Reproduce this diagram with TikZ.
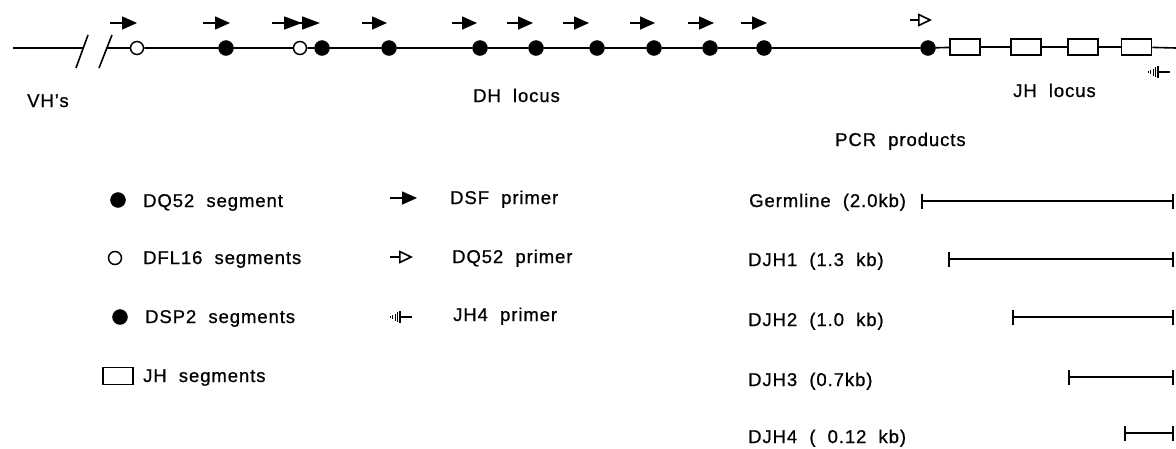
\documentclass[tikz,border=0pt]{standalone}
\usepackage{fontspec}
\setmainfont{Liberation Sans}[LetterSpace=5,WordSpace=2,FakeBold=0.8]
\usetikzlibrary{arrows.meta}
\tikzset{
  jhp/.pic={
    \draw[line width=1pt] (0,-1.2) -- (0,1.2);
    \draw[line width=1pt] (2.5,-2.2) -- (2.5,2.2);
    \draw[line width=1pt] (5,-3.5) -- (5,3.5);
    \draw[line width=1.2pt] (7.5,-5) -- (7.5,5);
    \draw[line width=1.2pt] (10,-6) -- (10,6);
    \draw[line width=1.6pt] (10,0) -- (22,0);
  }
}
\begin{document}
\begin{tikzpicture}[x=1pt,y=-1pt,
  lw/.style={line width=1.6pt},
  dot/.style={circle,fill=black,draw=black,inner sep=0pt,minimum size=15pt},
  odot/.style={circle,fill=white,draw=black,line width=1.5pt,inner sep=0pt,minimum size=13pt},
  jh/.style={rectangle,draw=black,fill=white,line width=1.5pt,inner sep=0pt,minimum width=30pt,minimum height=16pt},
  lbl/.style={anchor=base west,inner sep=0pt,font=\fontsize{18.5}{21}\selectfont},
  dsf/.style={line width=1.6pt,-{Triangle[length=15pt,width=13pt]}},
  dsfd/.style={line width=1.6pt,-{Triangle[length=18pt,width=13pt]Triangle[length=18pt,width=13pt]}},
  dq/.style={line width=1.6pt,-{Triangle[open,length=14pt,width=13pt]}},
  prod/.style={line width=1.6pt,{Bar[width=15pt]}-{Bar[width=15pt]}},
]
\useasboundingbox (0,0) rectangle (1176,448);

% ---- locus line ----
\coordinate (a0) at (13,48);
\coordinate (a1) at (83,48);
\coordinate (a2) at (107,48);
\coordinate (aend) at (1176,48);
\draw[lw] (76,68) -- (88,35);
\draw[lw] (99,68) -- (112,35);

\node[odot] (d1) at (137,48) {};
\node[dot]  (d2) at (226,48) {};
\node[odot] (d3) at (300,48) {};
\node[dot]  (d4) at (322,48) {};
\node[dot]  (d5) at (389,48) {};
\node[dot]  (d6) at (480,48) {};
\node[dot]  (d7) at (536,48) {};
\node[dot]  (d8) at (597,48) {};
\node[dot]  (d9) at (654,48) {};
\node[dot]  (d10) at (710,48) {};
\node[dot]  (d11) at (764,48) {};
\node[dot]  (dq) at (928,48) {};
\node[jh] (j1) at (965,47) {};
\node[jh] (j2) at (1026,47) {};
\node[jh] (j3) at (1083,47) {};
\node[jh] (j4) at (1136.5,47) {};

\draw[lw] (a0) -- (a1);
\draw[lw] (a2) -- (d1) -- (d2) -- (d3) -- (d4) -- (d5) -- (d6) -- (d7) -- (d8)
  -- (d9) -- (d10) -- (d11) -- (dq) -- (j1) -- (j2) -- (j3) -- (j4) -- (aend);

% ---- primers ----
\foreach \s/\e [count=\i] in {110/137,203/230,362/387,452/477,507/533,563/589,630/655,688/714,741/767}{
  \coordinate (ps\i) at (\s,23);
  \coordinate (pe\i) at (\e,23);
  \draw[dsf] (ps\i) -- (pe\i);
}
\coordinate (pds) at (272,23);
\coordinate (pde) at (320,23);
\draw[dsfd] (pds) -- (pde);
\coordinate (qs) at (910,20);
\coordinate (qe) at (932,20);
\draw[dq] (qs) -- (qe);
\pic at (1148,72) {jhp};

% ---- locus labels ----
\node[lbl] (vh) at (27,107) {VH's};
\node[lbl] (dh) at (473,102) {DH locus};
\node[lbl] (jhl) at (1013,97) {JH locus};
\node[lbl] (pcr) at (835,146) {PCR products};

% ---- legend ----
\node[dot] (l1) at (118,200) {};
\node[lbl] (t1) at (143,207) {DQ52 segment};
\node[odot] (l2) at (115,258) {};
\node[lbl] (t2) at (143,264) {DFL16 segments};
\node[dot] (l3) at (120,317) {};
\node[lbl] (t3) at (145,323) {DSP2 segments};
\node[jh,minimum height=17pt] (l4) at (118,376) {};
\node[lbl] (t4) at (143,382) {JH segments};

\coordinate (ls1) at (390,198);
\coordinate (le1) at (417,198);
\draw[dsf] (ls1) -- (le1);
\node[lbl] (r1) at (450,204) {DSF primer};
\coordinate (ls2) at (390,257);
\coordinate (le2) at (413,257);
\draw[dq] (ls2) -- (le2);
\node[lbl] (r2) at (452,263) {DQ52 primer};
\pic at (390,317) {jhp};
\node[lbl] (r3) at (453,321) {JH4 primer};

% ---- PCR products ----
\node[lbl] (g0) at (749,207) {Germline (2.0kb)};
\node[lbl] (g1) at (748,266) {DJH1 (1.3 kb)};
\node[lbl] (g2) at (748,326) {DJH2 (1.0 kb)};
\node[lbl] (g3) at (748,386) {DJH3 (0.7kb)};
\node[lbl] (g4) at (748,443) {DJH4 ( 0.12 kb)};

\coordinate (b0s) at (921,201);  \coordinate (b0e) at (1174,201);
\coordinate (b1s) at (948,259);  \coordinate (b1e) at (1174,259);
\coordinate (b2s) at (1012,317); \coordinate (b2e) at (1174,317);
\coordinate (b3s) at (1068,377); \coordinate (b3e) at (1174,377);
\coordinate (b4s) at (1124,433); \coordinate (b4e) at (1174,433);
\draw[prod] (b0s) -- (b0e);
\draw[prod] (b1s) -- (b1e);
\draw[prod] (b2s) -- (b2e);
\draw[prod] (b3s) -- (b3e);
\draw[prod] (b4s) -- (b4e);
\end{tikzpicture}
\end{document}
